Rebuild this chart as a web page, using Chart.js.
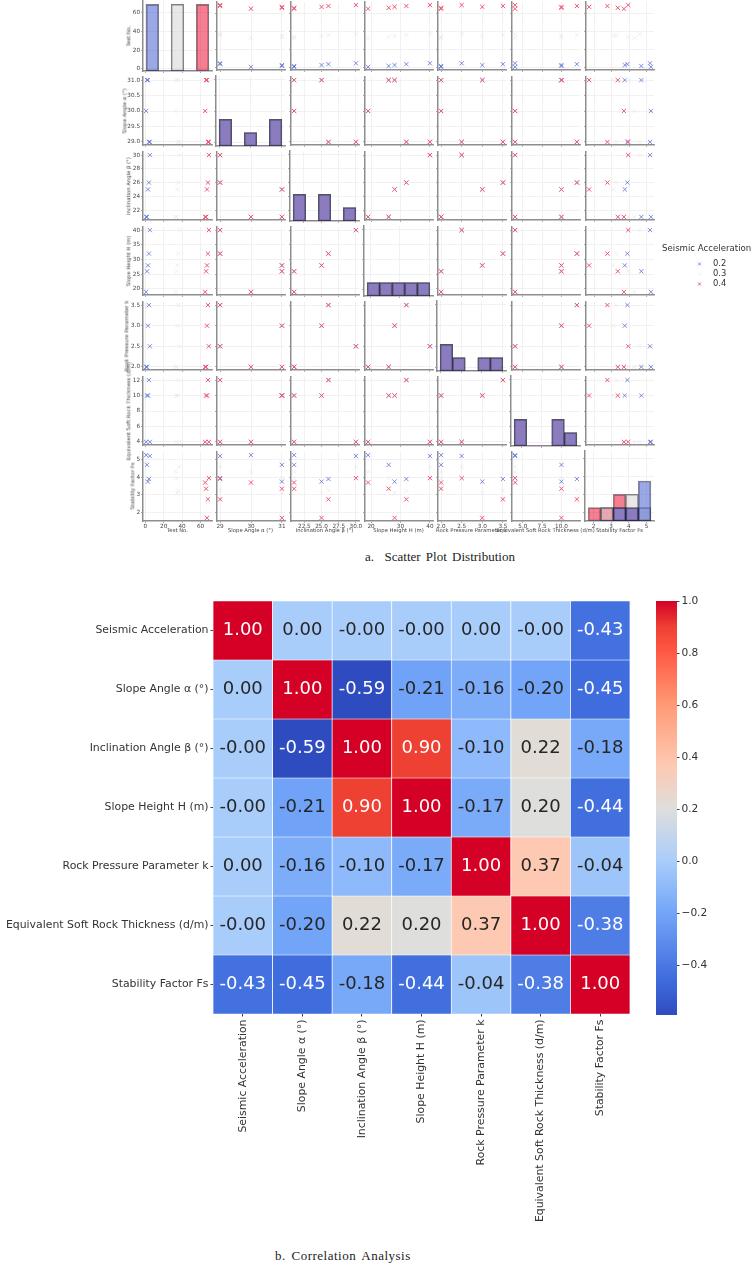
<!DOCTYPE html>
<html>
<head>
<meta charset="utf-8">
<title>Scatter plot distribution and correlation analysis</title>
<script src="https://cdn.jsdelivr.net/npm/chart.js@4"></script>
<style>
  html, body { margin: 0; padding: 0; background: #fff; }
  body { position: relative; width: 754px; height: 1264px; overflow: hidden; }
  canvas { position: absolute; }
  canvas.soft { filter: blur(0.35px); }
  .lab { position: absolute; white-space: nowrap; font-family: "DejaVu Sans", sans-serif; color: #444; font-size: 5.3px; line-height: 1; filter: blur(0.25px); }
  .cap { position: absolute; white-space: pre; font-family: "Liberation Serif", serif; color: #222; font-size: 13px; word-spacing: 2px; line-height: 1; }
</style>
</head>
<body>
<script>
// dati
const seismicLevels = [0.2, 0.3, 0.4];
const testNoBlue = [1, 2, 3, 4, 5];
const testNoGrey = [33, 34, 35, 36, 37];
const testNoRed = [65, 66, 67, 68, 69];
const slopeAngle = [30, 31, 31, 29, 29];
const inclination = [21, 21, 25, 26, 30];
const slopeHeight = [19, 26, 28, 32, 40];
const rockPressure = [2, 2, 3, 3.5, 2.5];
const softThickness = [4, 10, 10, 12, 4];
const fsBlue = [5.25, 4.7, 3.75, 3.9, 5.2];
const fsGrey = [4.3, 3.95, 3.1, 3.25, 4.6];
const fsRed = [3.7, 3.35, 1.7, 2.75, 3.95];

const pairNames = ["Test No.", "Slope Angle α (°)", "Inclination Angle β (°)", "Slope Height H (m)",
  "Rock Pressure Parameter k", "Equivalent Soft Rock Thickness (d/m)", "Stability Factor Fs"];
const axisMin = [-2.4, 28.9, 20.55, 17.95, 1.925, 3.6, 1.5225];
const axisMax = [72.4, 31.1, 30.45, 41.05, 3.575, 12.4, 5.4275];
const xTickText = [["0", "20", "40", "60"], ["29", "30", "31"], ["22.5", "25.0", "27.5", "30.0"], ["20", "30", "40"],
  ["2.0", "2.5", "3.0", "3.5"], ["5.0", "7.5", "10.0"], ["2", "3", "4", "5"]];
const yTickText = [["0", "20", "40", "60"], ["29.0", "29.5", "30.0", "30.5", "31.0"], ["22", "24", "26", "28", "30"],
  ["20", "25", "30", "35", "40"], ["2.0", "2.5", "3.0", "3.5"], ["4", "6", "8", "10", "12"], ["2", "3", "4", "5"]];

// istogrammi sulla diagonale (5 classi, conteggi per livello)
const binEdgesLow = [1, 29, 21, 19, 2, 4, 1.7];
const binWidths = [13.6, 0.4, 1.8, 4.2, 0.3, 1.6, 0.71];
const histBlue = [[5, 0, 0, 0, 0], [2, 0, 1, 0, 2], [2, 0, 2, 0, 1], [1, 1, 1, 1, 1], [2, 1, 0, 1, 1], [2, 0, 0, 2, 1], [0, 0, 1, 1, 3]];
const histGrey = [[0, 0, 5, 0, 0], [2, 0, 1, 0, 2], [2, 0, 2, 0, 1], [1, 1, 1, 1, 1], [2, 1, 0, 1, 1], [2, 0, 0, 2, 1], [0, 1, 1, 2, 1]];
const histRed = [[0, 0, 0, 0, 5], [2, 0, 1, 0, 2], [2, 0, 2, 0, 1], [1, 1, 1, 1, 1], [2, 1, 0, 1, 1], [2, 0, 0, 2, 1], [1, 1, 2, 1, 0]];

// matrice di correlazione
const corrNames = ["Seismic Acceleration", "Slope Angle α (°)", "Inclination Angle β (°)", "Slope Height H (m)",
  "Rock Pressure Parameter k", "Equivalent Soft Rock Thickness (d/m)", "Stability Factor Fs"];
const corrSeismic = ["1.00", "0.00", "-0.00", "-0.00", "0.00", "-0.00", "-0.43"];
const corrSlope = ["0.00", "1.00", "-0.59", "-0.21", "-0.16", "-0.20", "-0.45"];
const corrIncl = ["-0.00", "-0.59", "1.00", "0.90", "-0.10", "0.22", "-0.18"];
const corrHeight = ["-0.00", "-0.21", "0.90", "1.00", "-0.17", "0.20", "-0.44"];
const corrRock = ["0.00", "-0.16", "-0.10", "-0.17", "1.00", "0.37", "-0.04"];
const corrSoft = ["-0.00", "-0.20", "0.22", "0.20", "0.37", "1.00", "-0.38"];
const corrFs = ["-0.43", "-0.45", "-0.18", "-0.44", "-0.04", "-0.38", "1.00"];
const corrRows = [corrSeismic, corrSlope, corrIncl, corrHeight, corrRock, corrSoft, corrFs];
const colorbarTicks = [1, 0.8, 0.6, 0.4, 0.2, 0, -0.2, -0.4];

// scala colori (valore, colore)
const cmapValues = [-0.59, -0.45, -0.2, 0, 0.2, 0.37, 0.6, 0.8, 0.9, 1];
const cmapColors = [[47, 75, 192], [63, 109, 221], [114, 165, 248], [169, 205, 251], [222, 222, 220], [253, 201, 178],
  [255, 154, 117], [255, 90, 69], [239, 64, 52], [212, 0, 38]];

const markerColors = ["rgba(84,104,214,0.75)", "rgba(232,232,232,0.7)", "rgb(240,85,115)"];
const barColors = ["rgba(53,81,205,0.5)", "rgba(209,209,209,0.5)", "rgba(235,0,37,0.5)"];
const edgeAlpha = [0.55, 0.35, 0.35, 0.35, 0.35, 0.35, 0.5];
const gridColor = "#eeeeee";
const spineColor = "#8e8e8e";
const tickFont = { family: "DejaVu Sans", size: 5.7 };

// posizione dei pannelli in pixel
const panelLeft = [143, 216, 290, 364, 437, 511, 585];
const panelTop = [1, 76, 151, 226, 301, 376, 451];
const panelW = 69, panelH = 70;
const yTitleX = [129, 125, 129, 129, 127, 129, 133];

function addCanvas(left, top, w, h, cls) {
  const c = document.createElement("canvas");
  c.width = w;
  c.height = h;
  c.style.left = left + "px";
  c.style.top = top + "px";
  c.style.width = w + "px";
  c.style.height = h + "px";
  if (cls) c.className = cls;
  document.body.appendChild(c);
  return c;
}

function addLabel(cls, text, x, y, transform, extra) {
  const d = document.createElement("div");
  d.className = cls;
  d.textContent = text;
  d.style.left = x + "px";
  d.style.top = y + "px";
  d.style.transform = transform;
  if (extra) d.style.cssText += extra;
  document.body.appendChild(d);
}

function series(idx, level) {
  if (idx === 0) return [testNoBlue, testNoGrey, testNoRed][level];
  if (idx === 6) return [fsBlue, fsGrey, fsRed][level];
  return [null, slopeAngle, inclination, slopeHeight, rockPressure, softThickness][idx];
}

function fixedFit(size, horizontal) {
  return s => {
    if (horizontal) s.height = size; else s.width = size;
    s.paddingLeft = s.paddingRight = s.paddingTop = s.paddingBottom = 0;
  };
}

function axisOpts(texts, min, max, showLabels, size, horizontal) {
  return {
    type: "linear",
    min: min,
    max: max,
    offset: false,
    afterBuildTicks: s => { s.ticks = texts.map(t => ({ value: parseFloat(t) })); },
    afterFit: fixedFit(size, horizontal),
    grid: { color: gridColor, lineWidth: 0.8, offset: false, tickLength: 2, tickColor: "#888", tickWidth: 0.7 },
    border: { color: spineColor, width: 1.5 },
    ticks: {
      display: showLabels,
      autoSkip: false,
      maxRotation: 0,
      font: tickFont,
      color: "#444",
      padding: horizontal ? 0 : 1,
      callback: (v, i) => texts[i]
    }
  };
}

function makeCell(row, col) {
  const ml = col === 0 ? 18 : 4;
  const mb = row === 6 ? 12 : 4;
  const mt = 4, mr = 6;
  const cv = addCanvas(panelLeft[col] - ml, panelTop[row] - mt, panelW + ml + mr, panelH + mt + mb, "soft");
  const scales = {
    x: axisOpts(xTickText[col], axisMin[col], axisMax[col], row === 6, mb, true),
    y: axisOpts(yTickText[row], axisMin[row], axisMax[row], col === 0, ml, false)
  };
  let type, datasets;
  if (row === col) {
    type = "bar";
    scales.yh = { type: "linear", display: false, min: 0, max: 5.25 };
    datasets = [histBlue, histGrey, histRed].map((h, k) => ({
      data: h[col].map((n, b) => ({ x: binEdgesLow[col] + (b + 0.5) * binWidths[col], y: n })),
      yAxisID: "yh",
      grouped: false,
      barPercentage: 1,
      categoryPercentage: 1,
      backgroundColor: barColors[k],
      borderColor: `rgba(20,20,30,${edgeAlpha[col]})`,
      borderSkipped: false,
      borderWidth: c => (c.raw && c.raw.y ? 1 : 0)
    }));
  } else {
    type = "scatter";
    datasets = seismicLevels.map((lev, k) => ({
      label: String(lev),
      order: 2 - k, // il rosso sta sopra
      data: series(col, k).map((v, i) => ({ x: v, y: series(row, k)[i] })),
      pointStyle: "crossRot",
      pointRadius: 3,
      pointBorderWidth: 1,
      pointBorderColor: markerColors[k],
      pointBackgroundColor: markerColors[k],
      clip: false
    }));
  }
  new Chart(cv, {
    type: type,
    data: { datasets: datasets },
    options: {
      responsive: false,
      animation: false,
      layout: { padding: { top: mt, right: mr } },
      plugins: { legend: { display: false }, tooltip: { enabled: false } },
      scales: scales
    }
  });
}

for (let r = 0; r < 7; r++) {
  for (let c = 0; c < 7; c++) makeCell(r, c);
}
pairNames.forEach((name, i) => {
  addLabel("lab", name, yTitleX[i], panelTop[i] + panelH / 2, "translate(-50%,-50%) rotate(-90deg)");
  addLabel("lab", name, panelLeft[i] + panelW / 2, 531, "translate(-50%,-50%)");
});

// legenda: punti veri con le etichette sull'asse
addLabel("lab", "Seismic Acceleration", 662, 248, "translateY(-50%)", "font-size:8.6px;color:#333;");
new Chart(addCanvas(690, 254, 64, 40), {
  type: "scatter",
  data: {
    datasets: seismicLevels.map((lev, k) => ({
      label: String(lev),
      data: [{ x: 0, y: lev }],
      pointStyle: "crossRot",
      pointRadius: 2,
      pointBorderWidth: 1,
      pointBorderColor: markerColors[k]
    }))
  },
  options: {
    responsive: false,
    animation: false,
    layout: { padding: 0 },
    plugins: { legend: { display: false }, tooltip: { enabled: false } },
    scales: {
      x: { display: false, min: -1, max: 1 },
      y: {
        position: "right",
        reverse: true,
        min: 0.15,
        max: 0.45,
        afterBuildTicks: s => { s.ticks = seismicLevels.map(v => ({ value: v })); },
        afterFit: fixedFit(50, false),
        grid: { display: false, tickLength: 0 },
        border: { display: false },
        ticks: { padding: 9, color: "#333", font: { family: "DejaVu Sans", size: 8.4 }, callback: v => v.toFixed(1) }
      }
    }
  }
});

addLabel("cap", "a.  Scatter Plot Distribution", 365, 556, "translateY(-50%)");

// heatmap
function cmap(v) {
  let i = 0;
  while (i < cmapValues.length - 2 && v > cmapValues[i + 1]) i++;
  const t = Math.min(1, Math.max(0, (v - cmapValues[i]) / (cmapValues[i + 1] - cmapValues[i])));
  const a = cmapColors[i], b = cmapColors[i + 1];
  return `rgb(${a.map((x, k) => Math.round(x + (b[k] - x) * t)).join(",")})`;
}

const cellText = {
  id: "cellText",
  afterDatasetsDraw(chart) {
    const ctx = chart.ctx;
    ctx.save();
    ctx.font = '18px "DejaVu Sans"';
    ctx.textAlign = "center";
    ctx.textBaseline = "middle";
    corrRows.forEach((row, i) => {
      chart.getDatasetMeta(i).data.forEach((bar, j) => {
        const p = bar.getCenterPoint();
        const v = parseFloat(row[j]);
        ctx.fillStyle = v <= -0.3 || v >= 0.7 ? "#fff" : "#262626";
        ctx.fillText(row[j], p.x, p.y);
      });
    });
    ctx.restore();
  }
};

const heatFont = { family: "DejaVu Sans", size: 10.9 };
new Chart(addCanvas(0, 595, 640, 645), {
  type: "bar",
  data: {
    labels: corrNames,
    datasets: corrRows.map(row => ({
      data: row.map(() => 1),
      backgroundColor: row.map(t => cmap(parseFloat(t))),
      borderColor: "#fff",
      borderWidth: 0.7,
      borderSkipped: false,
      barPercentage: 1,
      categoryPercentage: 1
    }))
  },
  options: {
    responsive: false,
    animation: false,
    layout: { padding: { top: 6, right: 10 } },
    plugins: { legend: { display: false }, tooltip: { enabled: false } },
    scales: {
      x: {
        stacked: true,
        afterFit: fixedFit(226, true),
        grid: { display: true, offset: false, drawOnChartArea: false, tickLength: 2.5, tickColor: "#444" },
        border: { display: false },
        ticks: { autoSkip: false, minRotation: 90, maxRotation: 90, font: heatFont, color: "#333", padding: 3 }
      },
      y: {
        stacked: true,
        reverse: true,
        min: 0,
        max: 7,
        afterBuildTicks: s => { s.ticks = corrNames.map((n, i) => ({ value: i + 0.5 })); },
        afterFit: fixedFit(213, false),
        grid: { display: true, drawOnChartArea: false, tickLength: 2.5, tickColor: "#444" },
        border: { display: false },
        ticks: { font: heatFont, color: "#333", padding: 2, autoSkip: false, callback: (v, i) => corrNames[i] }
      }
    }
  },
  plugins: [cellText]
});

// barra dei colori
new Chart(addCanvas(656, 595, 98, 425), {
  type: "bar",
  data: {
    labels: [""],
    datasets: [{
      data: [[cmapValues[0], cmapValues[cmapValues.length - 1]]],
      barPercentage: 1,
      categoryPercentage: 1,
      borderWidth: 0,
      backgroundColor: c => {
        const area = c.chart.chartArea;
        if (!area) return "#888";
        const yS = c.chart.scales.y;
        const g = c.chart.ctx.createLinearGradient(0, yS.getPixelForValue(cmapValues[0]), 0, yS.getPixelForValue(1));
        cmapValues.forEach(v => g.addColorStop((v - cmapValues[0]) / (1 - cmapValues[0]), cmap(v)));
        return g;
      }
    }]
  },
  options: {
    responsive: false,
    animation: false,
    layout: { padding: { top: 6, bottom: 5 } },
    plugins: { legend: { display: false }, tooltip: { enabled: false } },
    scales: {
      x: { display: false },
      y: {
        position: "right",
        min: cmapValues[0],
        max: 1,
        afterBuildTicks: s => { s.ticks = colorbarTicks.map(v => ({ value: v })); },
        afterFit: fixedFit(77, false),
        grid: { display: true, drawOnChartArea: false, tickLength: 2.5, tickColor: "#444" },
        border: { display: false },
        ticks: {
          font: { family: "DejaVu Sans", size: 10.6 },
          color: "#333",
          padding: 2,
          callback: v => v.toFixed(1).replace("-", "−")
        }
      }
    }
  }
});

addLabel("cap", "b. Correlation Analysis", 275, 1255, "translateY(-50%)", "letter-spacing:0.5px;");
</script>
</body>
</html>
